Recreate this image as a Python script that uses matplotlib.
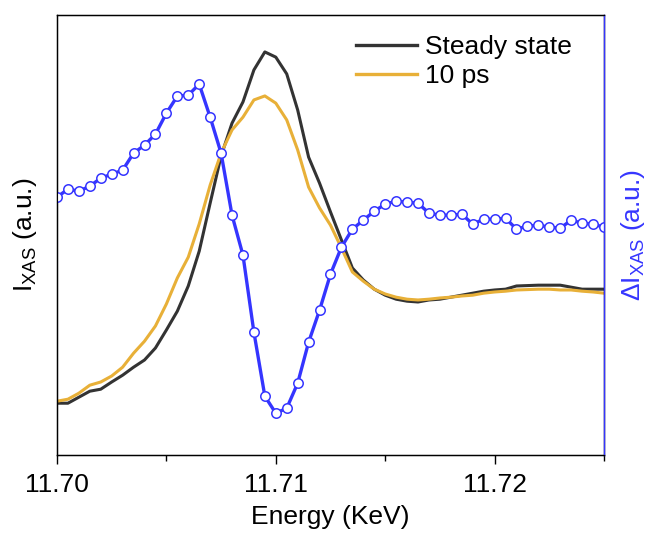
import matplotlib
matplotlib.use("Agg")
import matplotlib.pyplot as plt
from matplotlib.ticker import MultipleLocator, FormatStrFormatter

plt.rcParams["font.family"] = ["Liberation Sans", "DejaVu Sans"]
plt.rcParams["mathtext.default"] = "regular"

# energy grid, 0.5 eV steps (keV)
energy = [11.7000, 11.7005, 11.7010, 11.7015, 11.7020, 11.7025, 11.7030, 11.7035, 11.7040, 11.7045,
          11.7050, 11.7055, 11.7060, 11.7065, 11.7070, 11.7075, 11.7080, 11.7085, 11.7090, 11.7095,
          11.7100, 11.7105, 11.7110, 11.7115, 11.7120, 11.7125, 11.7130, 11.7135, 11.7140, 11.7145,
          11.7150, 11.7155, 11.7160, 11.7165, 11.7170, 11.7175, 11.7180, 11.7185, 11.7190, 11.7195,
          11.7200, 11.7205, 11.7210, 11.7215, 11.7220, 11.7225, 11.7230, 11.7235, 11.7240, 11.7245,
          11.7250]

steady = [0.130, 0.130, 0.145, 0.160, 0.165, 0.183, 0.200, 0.220, 0.238, 0.268,
          0.313, 0.360, 0.423, 0.510, 0.630, 0.748, 0.830, 0.883, 0.963, 1.008,
          0.995, 0.953, 0.863, 0.745, 0.680, 0.608, 0.538, 0.468, 0.438, 0.415,
          0.400, 0.390, 0.385, 0.383, 0.388, 0.390, 0.395, 0.400, 0.405, 0.410,
          0.413, 0.415, 0.423, 0.424, 0.425, 0.425, 0.425, 0.420, 0.415, 0.415,
          0.415]

ps10 = [0.135, 0.140, 0.155, 0.175, 0.183, 0.198, 0.220, 0.255, 0.285, 0.323,
        0.378, 0.443, 0.495, 0.578, 0.675, 0.755, 0.813, 0.845, 0.888, 0.898,
        0.880, 0.838, 0.763, 0.670, 0.618, 0.575, 0.518, 0.458, 0.435, 0.415,
        0.403, 0.395, 0.390, 0.388, 0.390, 0.393, 0.395, 0.398, 0.400, 0.405,
        0.408, 0.410, 0.413, 0.414, 0.415, 0.415, 0.413, 0.413, 0.410, 0.408,
        0.405]

delta = [25.8, 26.6, 26.4, 26.9, 27.7, 28.1, 28.5, 30.2, 31.0, 32.1,
         34.2, 35.9, 36.0, 37.1, 33.8, 30.2, 24.0, 20.0, 12.3, 5.9,
         4.2, 4.7, 7.2, 11.3, 14.5, 18.1, 20.8, 22.6, 23.5, 24.4,
         25.1, 25.4, 25.3, 25.2, 24.2, 24.0, 24.0, 24.1, 23.1, 23.6,
         23.6, 23.7, 22.6, 22.9, 23.0, 22.8, 22.7, 23.5, 23.2, 23.1,
         22.8]

BLACK = "#333333"
ORANGE = "#E8B038"
BLUE = "#3535FF"

fig = plt.figure(figsize=(6.46, 5.40), dpi=100)
ax = fig.add_axes([0.0882, 0.157, 0.8468, 0.815])

ax.plot(energy, steady, color=BLACK, lw=2.2, label="Steady state")
ax.plot(energy, ps10, color=ORANGE, lw=2.2, label="10 ps")
ax.set_xlim(11.700, 11.725)
ax.set_ylim(0, 1.1)
ax.set_yticks([])
ax.xaxis.set_major_locator(MultipleLocator(0.01))
ax.xaxis.set_minor_locator(MultipleLocator(0.005))
ax.xaxis.set_major_formatter(FormatStrFormatter("%.2f"))
ax.tick_params(axis="x", which="major", direction="out", length=6.5, width=1.0,
               labelsize=19, pad=6)
ax.tick_params(axis="x", which="minor", direction="out", length=4, width=1.0)
ax.set_xlabel("Energy (KeV)", fontsize=19, labelpad=6)
ax.set_ylabel("I$_{XAS}$ (a.u.)", fontsize=19, labelpad=13)
for s in ax.spines.values():
    s.set_linewidth(1.0)

ax2 = ax.twinx()
ax2.plot(energy, delta, color=BLUE, lw=2.4, marker="o", ms=6.8, mfc="white",
         mec=BLUE, mew=1.1)
ax2.set_ylim(0, 44)
ax2.set_yticks([])
ax2.spines["right"].set_color(BLUE)
ax2.spines["right"].set_linewidth(1.0)
ax2.set_ylabel("ΔI$_{XAS}$ (a.u.)", fontsize=19, color=BLUE, labelpad=11)

leg = ax.legend(loc="upper left", bbox_to_anchor=(0.547, 0.955), frameon=False,
                fontsize=19, borderpad=0, borderaxespad=0, handlelength=2.3,
                handletextpad=0.3, labelspacing=0.2)
for h in leg.get_lines():
    h.set_linewidth(2.4)

fig.savefig("out.png", dpi=100)
